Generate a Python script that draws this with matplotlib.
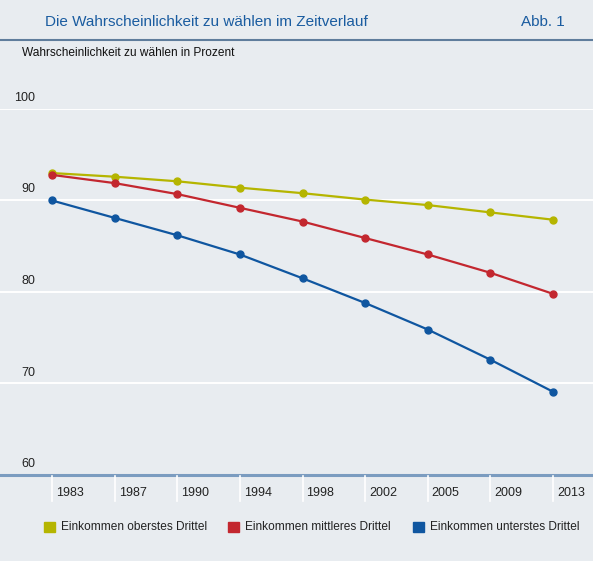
import matplotlib
matplotlib.use("Agg")
import matplotlib.pyplot as plt
import matplotlib.transforms as mtransforms

plt.rcParams["font.family"] = ["Liberation Sans", "DejaVu Sans"]

jahre = ["1983", "1987", "1990", "1994", "1998", "2002", "2005", "2009", "2013"]
oberstes = [93.0, 92.6, 92.1, 91.4, 90.8, 90.1, 89.5, 88.7, 87.9]
mittleres = [92.8, 91.9, 90.7, 89.2, 87.7, 85.9, 84.1, 82.1, 79.8]
unterstes = [90.0, 88.1, 86.2, 84.1, 81.5, 78.8, 75.9, 72.6, 69.1]
y_ticks = [60, 70, 80, 90, 100]

serien = [
    ("Einkommen oberstes Drittel", oberstes, "#b5b500"),
    ("Einkommen mittleres Drittel", mittleres, "#c3272f"),
    ("Einkommen unterstes Drittel", unterstes, "#0f56a0"),
]

BG = "#e8ecf0"
W, H = 593, 561

fig = plt.figure(figsize=(W / 100, H / 100), dpi=100)
fig.patch.set_facecolor(BG)

# Achse über die volle Breite, y von 60 (px 475) bis 100 (px 109)
y0_px, y1_px = 475, 109
ax = fig.add_axes([0, (H - y0_px) / H, 1, (y0_px - y1_px) / H])
ax.set_facecolor(BG)
step = 62.625
ax.set_xlim(-52 / step, (W - 52) / step)
ax.set_ylim(60, 100)
for s in ax.spines.values():
    s.set_visible(False)
ax.set_xticks([])
ax.set_yticks([])

for v in y_ticks[1:]:
    ax.axhline(v, color="white", lw=1.4, zorder=1)
ax.axhline(60, color="#7b9cc0", lw=2.2, zorder=3, clip_on=False)

x = list(range(len(jahre)))
for name, vals, col in serien:
    ax.plot(x, vals, color=col, lw=1.6, marker="o", markersize=5,
            zorder=4, clip_on=False)

# y-Beschriftung rechtsbündig über den Gitterlinien
tr = mtransforms.blended_transform_factory(fig.transFigure, ax.transData)
tr_off = mtransforms.offset_copy(tr, fig=fig, x=0, y=5, units="dots")
for v in y_ticks:
    ax.text(35 / W, v, str(v), transform=tr_off, ha="right", va="bottom",
            fontsize=9, color="#222222")

# Trennstriche und Jahreszahlen
for i, j in enumerate(jahre):
    fig.add_artist(plt.Line2D([(52 + i * step) / W] * 2,
                              [(H - 476) / H, (H - 501) / H],
                              color="white", lw=1.2))
    fig.text((56 + i * step) / W, (H - 493) / H, j, ha="left", va="center",
             fontsize=9, color="#222222")

# Titelbereich
fig.text(45 / W, (H - 22) / H, "Die Wahrscheinlichkeit zu wählen im Zeitverlauf",
         ha="left", va="center", fontsize=11, color="#1a5ca0")
fig.text(565 / W, (H - 22) / H, "Abb. 1", ha="right", va="center",
         fontsize=11, color="#1a5ca0")
fig.add_artist(plt.Line2D([0, 1], [(H - 40) / H] * 2, color="#5f7d9c", lw=1.5))
fig.text(22 / W, (H - 53) / H, "Wahrscheinlichkeit zu wählen in Prozent",
         ha="left", va="center", fontsize=8.6, color="#111111")

# Legende
leg_x = [44, 228, 413]
for (name, vals, col), lx in zip(serien, leg_x):
    fig.add_artist(plt.Rectangle((lx / W, (H - 532) / H), 11 / W, 10 / H,
                                 color=col, transform=fig.transFigure))
    fig.text((lx + 17) / W, (H - 527) / H, name, ha="left", va="center",
             fontsize=8.6, color="#222222")

fig.savefig("out.png", dpi=100, facecolor=BG)
